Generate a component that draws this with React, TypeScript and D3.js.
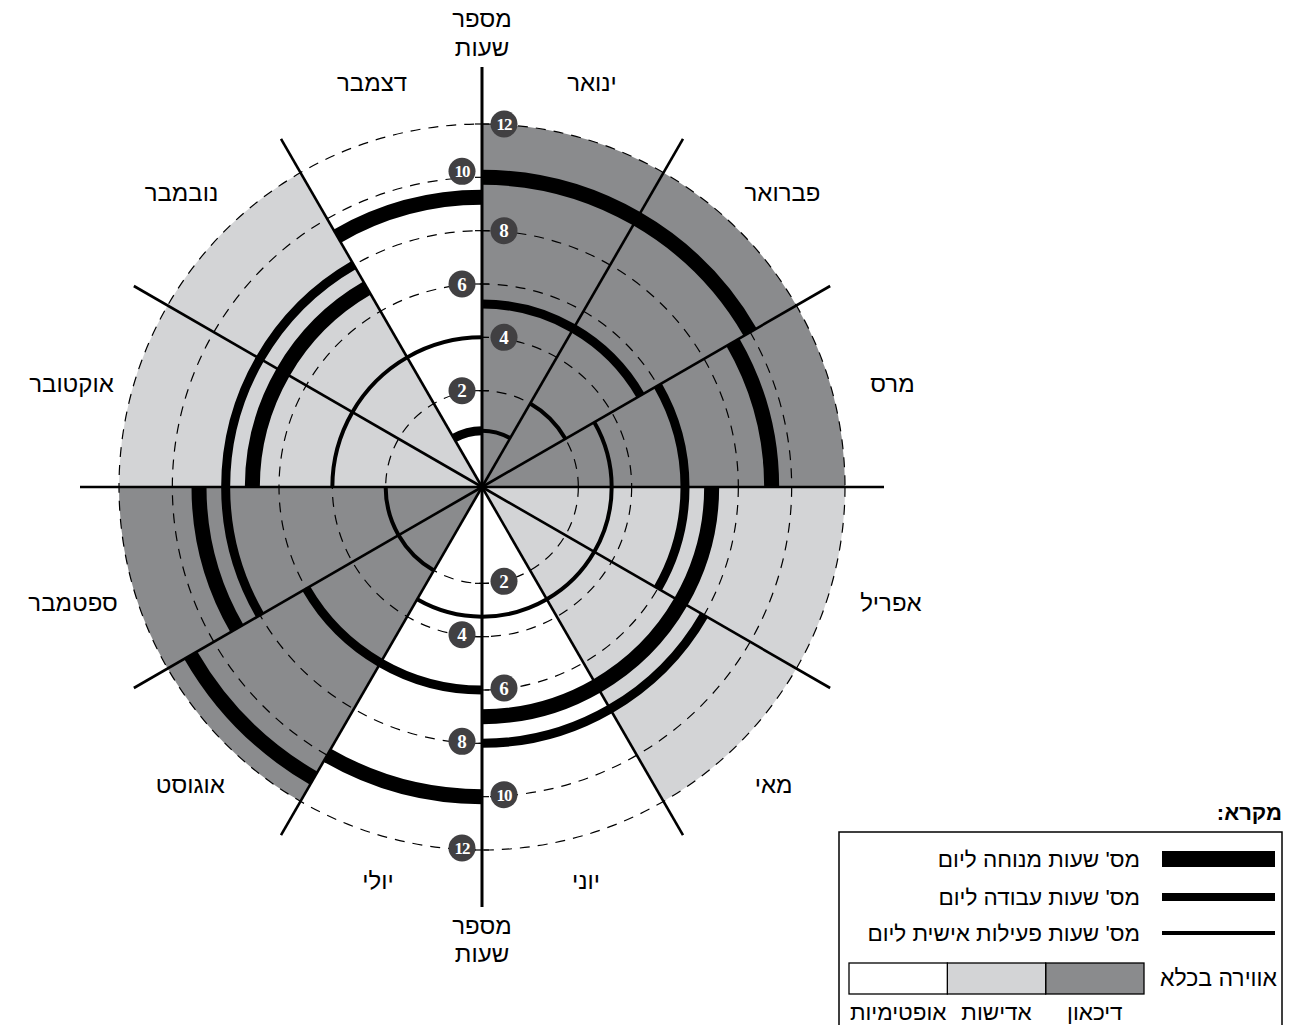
import React, { useEffect, useRef } from 'react';
import * as d3 from 'd3';

// months clockwise from 12 o'clock
const months = ['ינואר', 'פברואר', 'מרס', 'אפריל', 'מאי', 'יוני', 'יולי', 'אוגוסט', 'ספטמבר', 'אוקטובר', 'נובמבר', 'דצמבר'];
const restHours = [10, 10, 9.25, 7, 7, 7, 10, 11, 9, 7, 7, 9.25];
const workHours = [5.25, 5.25, 6, 6, 8, 8, 6, 6, 8, 8, 8, 0.5];
const personalHours = [0.5, 2, 3.25, 3.25, 3.25, 3.25, 3.25, 2, 2, 4, 4, 4];
const moods = ['depression', 'depression', 'depression', 'apathy', 'apathy', 'optimism', 'optimism', 'depression', 'depression', 'apathy', 'apathy', 'optimism'];

const moodKeys = ['depression', 'apathy', 'optimism'];
const moodLabels = ['דיכאון', 'אדישות', 'אופטימיות'];
const seriesLabels = ["מס' שעות מנוחה ליום", "מס' שעות עבודה ליום", "מס' שעות פעילות אישית ליום"];
const hourTicks = [2, 4, 6, 8, 10, 12];

const W = 1290;
const H = 1025;
const cx = 482;
const cy = 487;
const SANS = "'Liberation Sans', 'DejaVu Sans', Arial, sans-serif";
const SERIF = "'Liberation Serif', 'DejaVu Serif', serif";

const App: React.FC = () => {
  const svgRef = useRef<SVGSVGElement>(null);

  useEffect(() => {
    document.body.style.margin = '0';
    if (!svgRef.current) return;
    const svg = d3.select(svgRef.current);
    svg.selectAll('*').remove();

    const r = d3.scaleLinear().domain([0, 12]).range([43, 363]);
    const angle = d3.scaleBand<string>().domain(months).range([0, 2 * Math.PI]);
    const color = d3.scaleOrdinal<string, string>().domain(moodKeys).range(['#8a8b8d', '#d3d4d6', '#ffffff']);
    const arc = d3.arc<any>();

    const g = svg.append('g').attr('transform', `translate(${cx},${cy})`);

    // mood sectors
    months.forEach((m, i) => {
      g.append('path')
        .attr('d', arc({ innerRadius: 0, outerRadius: r(12), startAngle: angle(m)!, endAngle: angle(m)! + angle.bandwidth() }))
        .attr('fill', color(moods[i]));
    });

    // dashed hour rings
    hourTicks.forEach(h => {
      g.append('circle')
        .attr('r', r(h))
        .attr('fill', 'none')
        .attr('stroke', '#000')
        .attr('stroke-width', 1.2)
        .attr('stroke-dasharray', '10 8');
    });

    // hour series as arc bands
    const series = [
      { values: restHours, w: 15 },
      { values: workHours, w: 9 },
      { values: personalHours, w: 4 }
    ];
    series.forEach(s => {
      months.forEach((m, i) => {
        const rr = r(s.values[i]);
        g.append('path')
          .attr('d', arc({ innerRadius: rr - s.w / 2, outerRadius: rr + s.w / 2, startAngle: angle(m)!, endAngle: angle(m)! + angle.bandwidth() }))
          .attr('fill', '#000');
      });
    });

    // spokes
    months.forEach((m, i) => {
      const a = angle(m)!;
      const len = i % 6 === 0 ? 420 : 402;
      g.append('line')
        .attr('x1', 0).attr('y1', 0)
        .attr('x2', len * Math.sin(a)).attr('y2', -len * Math.cos(a))
        .attr('stroke', '#000')
        .attr('stroke-width', i % 6 === 0 ? 3 : 2.6);
    });

    // ticks on the vertical axis
    hourTicks.forEach(h => {
      [-1, 1].forEach(dir => {
        g.append('line')
          .attr('x1', -7).attr('x2', 7)
          .attr('y1', dir * r(h)).attr('y2', dir * r(h))
          .attr('stroke', '#000').attr('stroke-width', 1.2);
      });
    });

    // hour badges
    const badge = (x: number, y: number, h: number) => {
      const b = g.append('g').attr('transform', `translate(${x},${y})`);
      b.append('circle').attr('r', 13.5).attr('fill', '#414042');
      b.append('text')
        .attr('text-anchor', 'middle')
        .attr('dy', '0.35em')
        .attr('fill', '#fff')
        .attr('font-family', SERIF)
        .attr('font-weight', 'bold')
        .attr('font-size', h >= 10 ? 17 : 19)
        .attr('letter-spacing', h >= 10 ? -1 : 0)
        .text(h);
    };
    hourTicks.forEach(h => {
      const topSide = (h / 2) % 2 === 0 ? 22 : -20;
      badge(topSide, -r(h) + (h === 10 ? -6 : 0), h);
      const botSide = (h / 2) % 2 === 1 ? 22 : -20;
      badge(botSide, r(h) - 2, h);
    });

    // month labels
    months.forEach(m => {
      const a = angle(m)! + angle.bandwidth() / 2;
      const down = Math.max(0, -Math.cos(a));
      const lr = 425 - 25 * down * down;
      svg.append('text')
        .attr('x', cx + lr * Math.sin(a))
        .attr('y', cy + 6 - lr * Math.cos(a))
        .attr('text-anchor', 'middle')
        .attr('dominant-baseline', 'central')
        .attr('direction', 'rtl')
        .attr('font-family', SANS)
        .attr('font-size', 24)
        .text(m);
    });

    // axis titles
    const axisTitle = (y1: number, y2: number) => {
      ['מספר', 'שעות'].forEach((t, k) => {
        svg.append('text')
          .attr('x', cx)
          .attr('y', k === 0 ? y1 : y2)
          .attr('text-anchor', 'middle')
          .attr('direction', 'rtl')
          .attr('font-family', SANS)
          .attr('font-size', 24)
          .text(t);
      });
    };
    axisTitle(27, 56);
    axisTitle(934, 962);

    // legend
    const lg = svg.append('g');
    lg.append('text')
      .attr('x', 1282).attr('y', 820)
      .attr('direction', 'rtl')
      .attr('text-anchor', 'start')
      .attr('font-family', SANS)
      .attr('font-weight', 'bold')
      .attr('font-size', 22)
      .text('מקרא:');
    lg.append('rect')
      .attr('x', 839).attr('y', 832).attr('width', 443).attr('height', 260)
      .attr('fill', 'none').attr('stroke', '#000').attr('stroke-width', 1.5);

    const legendRows = [
      { y: 859, h: 16 },
      { y: 897, h: 8 },
      { y: 933, h: 4 }
    ];
    seriesLabels.forEach((label, i) => {
      lg.append('rect')
        .attr('x', 1162).attr('y', legendRows[i].y - legendRows[i].h / 2)
        .attr('width', 113).attr('height', legendRows[i].h)
        .attr('fill', '#000');
      lg.append('text')
        .attr('x', 1140).attr('y', legendRows[i].y)
        .attr('direction', 'rtl')
        .attr('text-anchor', 'start')
        .attr('dominant-baseline', 'central')
        .attr('font-family', SANS)
        .attr('font-size', 22.5)
        .text(label);
    });

    // mood swatches, right to left
    const mx = d3.scaleBand<string>().domain(moodKeys).range([1144, 849]);
    moodKeys.forEach((k, i) => {
      lg.append('rect')
        .attr('x', mx(k)!)
        .attr('y', 963)
        .attr('width', mx.bandwidth())
        .attr('height', 31)
        .attr('fill', color(k))
        .attr('stroke', '#000')
        .attr('stroke-width', 1.3);
      lg.append('text')
        .attr('x', mx(k)! + mx.bandwidth() / 2)
        .attr('y', 1012)
        .attr('text-anchor', 'middle')
        .attr('dominant-baseline', 'central')
        .attr('direction', 'rtl')
        .attr('font-family', SANS)
        .attr('font-size', 22.5)
        .text(moodLabels[i]);
    });
    lg.append('text')
      .attr('x', 1277).attr('y', 978)
      .attr('direction', 'rtl')
      .attr('text-anchor', 'start')
      .attr('dominant-baseline', 'central')
      .attr('font-family', SANS)
      .attr('font-size', 23)
      .text('אווירה בכלא');
  }, []);

  return (
    <svg
      ref={svgRef}
      width={W}
      height={H}
      style={{ position: 'absolute', left: 0, top: 0, background: '#fff' }}
    />
  );
};

export default App;
